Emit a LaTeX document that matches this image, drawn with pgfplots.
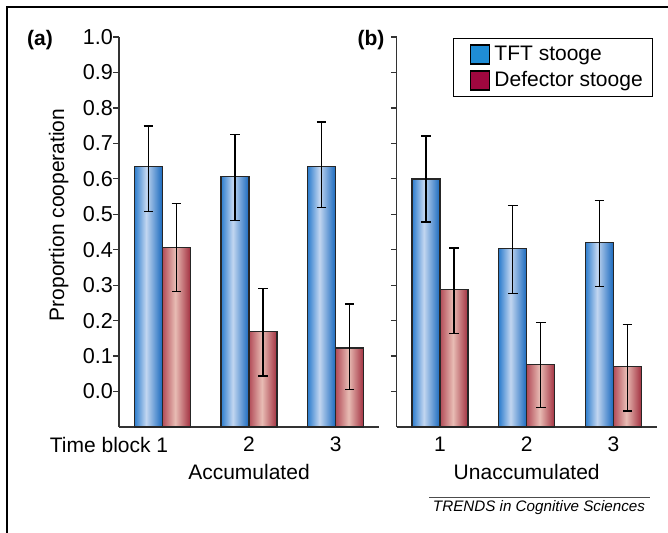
\documentclass[border=0pt]{standalone}
\usepackage{fontspec}
\setmainfont{Liberation Sans}
\usepackage{pgfplots}
\pgfplotsset{compat=1.18}
\definecolor{tftblue}{RGB}{31,141,214}
\definecolor{defred}{RGB}{160,7,63}
\definecolor{blueL}{RGB}{45,125,205}
\definecolor{blueC}{RGB}{194,214,240}
\definecolor{blueR}{RGB}{25,105,190}
\definecolor{redL}{RGB}{178,76,88}
\definecolor{redC}{RGB}{232,188,180}
\definecolor{redR}{RGB}{162,48,64}
\pgfdeclarehorizontalshading{blueshade}{100bp}{color(0bp)=(blueL); color(25bp)=(blueL); color(46bp)=(blueC); color(75bp)=(blueR); color(100bp)=(blueR)}
\pgfdeclarehorizontalshading{redshade}{100bp}{color(0bp)=(redL); color(25bp)=(redL); color(48bp)=(redC); color(75bp)=(redR); color(100bp)=(redR)}
\pgfplotsset{
  panel/.style={
    width=130pt, height=195pt, scale only axis,
    xmin=0.5, xmax=3.5, ymin=0, ymax=1.1,
    % values are shifted by 0.1 so that the bars start at the axis floor (-0.1)
    y filter/.expression={y+0.1},
    ytick={0.1,0.2,0.3,0.4,0.5,0.6,0.7,0.8,0.9,1.0,1.1},
    xtick={1,2,3},
    axis x line*=bottom, axis y line*=left,
    axis line style={black!80, line width=0.6pt},
    tick align=outside, major tick length=2.9pt,
    ytick style={black!80, line width=0.6pt},
    xtick style={draw=none},
    yticklabel style={font=\fontsize{10.8}{13}\selectfont, inner xsep=0pt},
    xticklabel style={font=\fontsize{10.5}{12.6}\selectfont, yshift=1.5pt},
    ybar, bar width=14pt,
  },
  errs/.style={
    error bars/y dir=both, error bars/y explicit,
    error bars/error bar style={black, line width=0.6pt},
    error bars/error mark options={rotate=90, mark size=2.4pt, black, line width=0.6pt}},
  tftbar/.style={ybar, bar shift=-7pt, draw=black!85, line width=0.7pt, shading=blueshade, errs, forget plot},
  defbar/.style={ybar, bar shift=7pt, draw=black!85, line width=0.7pt, shading=redshade, errs, forget plot},
}
\newcommand\tft[4]{\addplot[tftbar] coordinates {(#1,#2) += (0,#3) -= (0,#4)};}
\newcommand\dfc[4]{\addplot[defbar] coordinates {(#1,#2) += (0,#3) -= (0,#4)};}
\begin{document}
\fontsize{10.5}{12.6}\selectfont
\begin{tikzpicture}
\path[use as bounding box] (0,0) rectangle (334pt,-266.5pt);
\draw[line width=0.9pt] (334pt,-3.5pt) -- (3.5pt,-3.5pt) -- (3.5pt,-266.5pt);
% panel (a)
\begin{axis}[panel,
  at={(59.5pt,-213.5pt)}, anchor=south west,
  yticklabels={0.0,0.1,0.2,0.3,0.4,0.5,0.6,0.7,0.8,0.9,1.0},
  xticklabels={\llap{Time block }1\hspace{3pt},2,3},
  xlabel={Accumulated},
  xlabel style={at={(axis description cs:0.5,0)}, anchor=center, yshift=-22.4pt},
  ylabel={Proportion cooperation},
  ylabel style={at={(axis description cs:-0.232,0.544)}, anchor=center},
]
\tft{1}{0.634}{0.115}{0.127}
\tft{2}{0.607}{0.119}{0.124}
\tft{3}{0.634}{0.126}{0.115}
\dfc{1}{0.407}{0.123}{0.125}
\dfc{2}{0.170}{0.121}{0.126}
\dfc{3}{0.123}{0.124}{0.118}
\end{axis}
% panel (b)
\begin{axis}[panel,
  at={(198.35pt,-213.5pt)}, anchor=south west,
  xticklabels={1,2,3},
  yticklabels={},
  xlabel={Unaccumulated},
  xlabel style={at={(axis description cs:0.5,0)}, anchor=center, yshift=-22.4pt},
  legend style={at={(axis description cs:0.987,0.997)}, anchor=north east,
    draw=black, line width=0.6pt, inner xsep=3pt, inner ysep=1.5pt,
    row sep=0pt, cells={anchor=west}},
  legend image code/.code={\path (0pt,0pt); \draw[#1, line width=0.6pt] (5.3pt,-4.75pt) rectangle (14.8pt,4.75pt);},
]
\addlegendimage{fill=tftblue, draw=black}
\addlegendentry{TFT stooge}
\addlegendimage{fill=defred, draw=black}
\addlegendentry{Defector stooge}
\tft{1}{0.599}{0.122}{0.121}
\tft{2}{0.403}{0.121}{0.127}
\tft{3}{0.420}{0.118}{0.123}
\dfc{1}{0.287}{0.118}{0.124}
\dfc{2}{0.076}{0.119}{0.121}
\dfc{3}{0.071}{0.117}{0.126}
\end{axis}
\node[font=\bfseries] at (20pt,-20pt) {(a)};
\node[font=\bfseries] at (185.5pt,-20pt) {(b)};
\draw[black!70, line width=0.5pt] (214.5pt,-248.6pt) -- (325pt,-248.6pt);
\node[font=\fontsize{7.6}{9}\selectfont\itshape, anchor=base] at (269.5pt,-255.85pt) {TRENDS in Cognitive Sciences};
\end{tikzpicture}
\end{document}
